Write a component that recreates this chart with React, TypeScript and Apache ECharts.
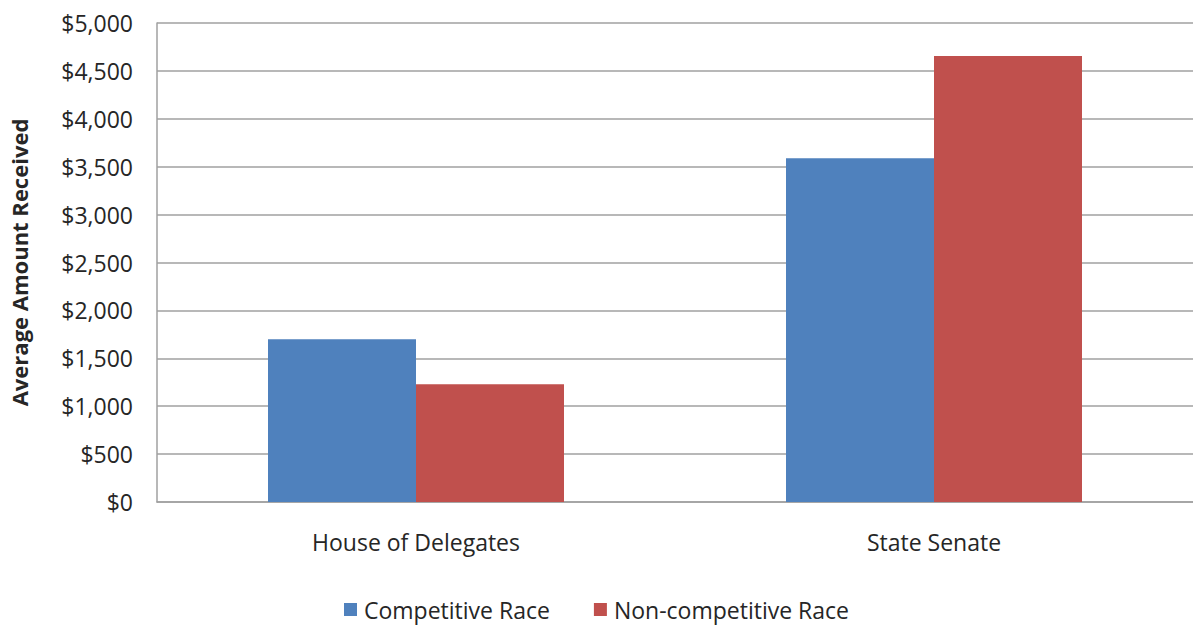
import React, { useEffect, useRef } from "react";
import * as echarts from "echarts";

const categories = ["House of Delegates", "State Senate"];
const competitive = [1698, 3588];
const nonCompetitive = [1229, 4656];
const seriesNames = ["Competitive Race", "Non-competitive Race"];
const yAxisTitle = "Average Amount Received";

const FONT = "'Open Sans', 'Noto Sans', sans-serif";
const TEXT = "#262626";

export default function App() {
  const ref = useRef<HTMLDivElement>(null);
  useEffect(() => {
    if (!ref.current) return;
    const chart = echarts.init(ref.current, undefined, { renderer: "svg" });
    chart.setOption({
      animation: false,
      backgroundColor: "#ffffff",
      textStyle: { fontFamily: FONT },
      grid: { left: 152, top: 23, width: 1041, height: 479, containLabel: false },
      legend: {
        bottom: 0,
        left: "center",
        itemWidth: 13,
        itemHeight: 13,
        itemGap: 44,
        icon: "rect",
        textStyle: { fontFamily: FONT, fontSize: 23, color: TEXT, padding: [0, 0, 0, 2] },
        data: seriesNames,
      },
      xAxis: {
        type: "category",
        data: categories,
        axisLine: { show: true, lineStyle: { color: "#a0a0a0", width: 1.5 } },
        axisTick: { show: false },
        axisLabel: { fontFamily: FONT, fontSize: 23, color: TEXT, margin: 28 },
      },
      yAxis: {
        type: "value",
        min: 0,
        max: 5000,
        interval: 500,
        name: yAxisTitle,
        nameLocation: "middle",
        nameGap: 127,
        nameRotate: 90,
        nameTextStyle: { fontFamily: FONT, fontSize: 22, fontWeight: "bold", color: TEXT },
        axisLine: { show: true, lineStyle: { color: "#a0a0a0", width: 1.5 } },
        axisTick: { show: false },
        splitLine: { show: true, lineStyle: { color: "#a0a0a0", width: 1.5 } },
        axisLabel: {
          fontFamily: FONT,
          fontSize: 23,
          color: TEXT,
          margin: 24,
          formatter: (v: number) => "$" + v.toLocaleString("en-US"),
        },
      },
      series: [
        {
          name: seriesNames[0],
          type: "bar",
          data: competitive,
          barWidth: 148,
          barGap: "0%",
          itemStyle: { color: "#4F81BD" },
        },
        {
          name: seriesNames[1],
          type: "bar",
          data: nonCompetitive,
          barWidth: 148,
          barGap: "0%",
          itemStyle: { color: "#C0504D" },
        },
      ],
    });
    return () => chart.dispose();
  }, []);
  return (
    <div
      ref={ref}
      style={{ position: "fixed", left: 0, top: 0, width: 1193, height: 626, background: "#fff" }}
    />
  );
}
